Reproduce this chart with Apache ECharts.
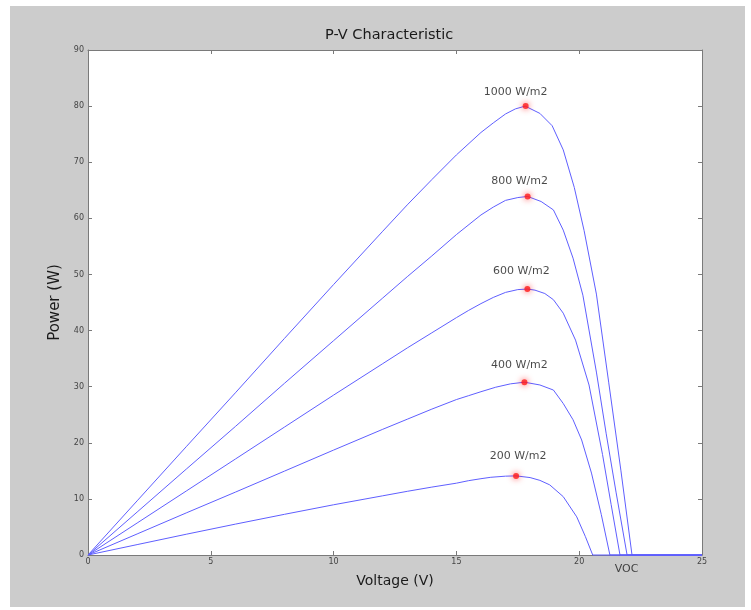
<!DOCTYPE html>
<html>
<head>
<meta charset="utf-8">
<script src="https://cdn.jsdelivr.net/npm/echarts@6/dist/echarts.min.js"></script>
<style>
html,body{margin:0;padding:0;background:#fff;}
#wrap{position:relative;width:751px;height:610px;background:#fff;}
#bg{position:absolute;left:10px;top:6px;width:735px;height:601px;background:#cccccc;}
#chart{position:absolute;left:0;top:0;width:751px;height:610px;}
</style>
</head>
<body>
<div id="wrap"><div id="bg"></div><div id="chart"></div></div>
<script>
// ---- data ----
const voltage1000 = [0,2,4,6,8,10,12,13,14,15,16,16.5,17,17.4,17.8,18.4,18.9,19.35,19.8,20.2,20.7,21.2,21.7,22.15,25];
const power1000   = [0,9.65,19.3,28.9,38.6,48.2,57.7,62.4,66.9,71.3,75.3,77.0,78.6,79.5,80.0,78.7,76.5,72.2,65.5,57.8,46.5,30.8,15.0,0,0];

const voltage800 = [0,2,4,6,8,10,12,13,14,15,16,16.5,17,17.5,17.9,18.45,18.95,19.35,19.75,20.15,20.7,21.1,21.5,21.95,25];
const power800   = [0,7.65,15.3,22.9,30.6,38.2,45.8,49.6,53.3,57.1,60.6,62.0,63.2,63.7,63.9,63.0,61.5,57.9,52.9,46.3,32.6,21.6,11.2,0,0];

const voltage600 = [0,2,4,6,8,10,12,13,14,15,15.5,16,16.5,17,17.5,17.9,18.2,18.6,18.95,19.35,19.85,20.4,20.95,21.3,21.66,25];
const power600   = [0,5.7,11.4,17.1,22.8,28.5,34.1,36.9,39.6,42.3,43.6,44.8,45.9,46.8,47.3,47.4,47.2,46.6,45.5,43.1,38.3,30.3,17.9,9.0,0,0];

const voltage400 = [0,2,4,6,8,10,12,13,14,15,15.5,16,16.6,17.2,17.77,18.4,18.95,19.35,19.75,20.1,20.5,20.9,21.25,25];
const power400   = [0,3.75,7.5,11.2,14.95,18.7,22.4,24.2,26.0,27.7,28.4,29.1,29.9,30.5,30.8,30.3,29.4,27.0,24.1,20.5,14.6,7.2,0,0];

const voltage200 = [0,2,4,6,8,10,12,13,14,15,15.5,16,16.4,17,17.43,18,18.4,18.8,19.35,19.9,20.25,20.55,25];
const power200   = [0,1.85,3.7,5.5,7.25,8.95,10.55,11.35,12.1,12.8,13.25,13.6,13.85,14.05,14.1,13.8,13.3,12.5,10.4,6.8,3.3,0,0];

const mppVoltage = [17.82,17.9,17.89,17.77,17.43];
const mppPower   = [80,63.9,47.4,30.8,14.1];
const mppLabels  = ['1000 W/m2','800 W/m2','600 W/m2','400 W/m2','200 W/m2'];

const vocVoltage = 21.93;
const vocText = 'VOC';

const xTicks = {min:0, max:25, interval:5};
const yTicks = {min:0, max:90, interval:10};

const chartTitle = 'P-V Characteristic';
const xName = 'Voltage (V)';
const yName = 'Power (W)';

// label placement (style, px) for the MPP annotations
const mppLabelOffsets = [[-10,2],[-8,0],[-6,-2],[-5,-2],[2,-4]];

// ---- build ----
const pair = (xs, ys) => xs.map((x,i)=>[x, ys[i]]);
const curves = [
  pair(voltage1000, power1000),
  pair(voltage800, power800),
  pair(voltage600, power600),
  pair(voltage400, power400),
  pair(voltage200, power200)
];

const FONT = 'DejaVu Sans';
const axisCol = '#7a7a7a';
const lineCol = 'rgb(95,95,255)';

const chart = echarts.init(document.getElementById('chart'), null, {renderer:'canvas'});

const baseX = {
  type:'value', min:xTicks.min, max:xTicks.max, interval:xTicks.interval,
  axisLine:{show:true, onZero:false, lineStyle:{color:axisCol, width:1}},
  axisTick:{show:true, inside:true, length:4, lineStyle:{color:axisCol}},
  splitLine:{show:false}
};
const baseY = {
  type:'value', min:yTicks.min, max:yTicks.max, interval:yTicks.interval,
  axisLine:{show:true, onZero:false, lineStyle:{color:axisCol, width:1}},
  axisTick:{show:true, inside:true, length:4, lineStyle:{color:axisCol}},
  splitLine:{show:false}
};

const series = curves.map((d,i)=>({
  type:'line', data:d, xAxisIndex:0, yAxisIndex:0,
  showSymbol:false, symbol:'none', clip:false, z:3,
  lineStyle:{color:lineCol, width:1}, animation:false
}));

series.push({
  type:'scatter', xAxisIndex:0, yAxisIndex:0, z:5, clip:false, animation:false,
  data: mppVoltage.map((v,i)=>({
    value:[v, mppPower[i]], name:mppLabels[i],
    label:{offset:mppLabelOffsets[i]}
  })),
  symbol:'circle', symbolSize:6,
  itemStyle:{color:'#ff1a1a', shadowBlur:6, shadowColor:'rgba(255,0,0,0.9)'},
  label:{show:true, position:'top', distance:7, formatter:p=>p.name,
         fontFamily:FONT, fontSize:11, color:'#1a1a1a'}
});

series.push({
  type:'scatter', xAxisIndex:0, yAxisIndex:0, z:5, clip:false, animation:false,
  data:[{value:[vocVoltage, 0], name:vocText}],
  symbolSize:0, silent:true,
  label:{show:true, position:'bottom', distance:9, formatter:p=>p.name,
         fontFamily:FONT, fontSize:11, color:'#1a1a1a'}
});

chart.setOption({
  backgroundColor:'transparent',
  animation:false,
  title:{text:chartTitle, left:320, top:23,
         textStyle:{fontFamily:FONT, fontSize:14.5, fontWeight:'normal', color:'#1a1a1a'}},
  grid:{left:88, right:49, top:50, bottom:55, show:true, backgroundColor:'#ffffff', borderWidth:0},
  xAxis:[
    Object.assign({}, baseX, {position:'bottom', name:xName, nameLocation:'middle', nameGap:19,
      nameTextStyle:{fontFamily:FONT, fontSize:14, color:'#1a1a1a'},
      axisLabel:{show:true, margin:3, fontFamily:FONT, fontSize:8, color:'#444'}}),
    Object.assign({}, baseX, {position:'top', axisLabel:{show:false}})
  ],
  yAxis:[
    Object.assign({}, baseY, {position:'left', name:yName, nameLocation:'middle', nameGap:22,
      nameTextStyle:{fontFamily:FONT, fontSize:15, color:'#1a1a1a'},
      axisLabel:{show:true, margin:4, fontFamily:FONT, fontSize:8, color:'#444'}}),
    Object.assign({}, baseY, {position:'right', axisLabel:{show:false}})
  ],
  series:series
});
</script>
</body>
</html>
